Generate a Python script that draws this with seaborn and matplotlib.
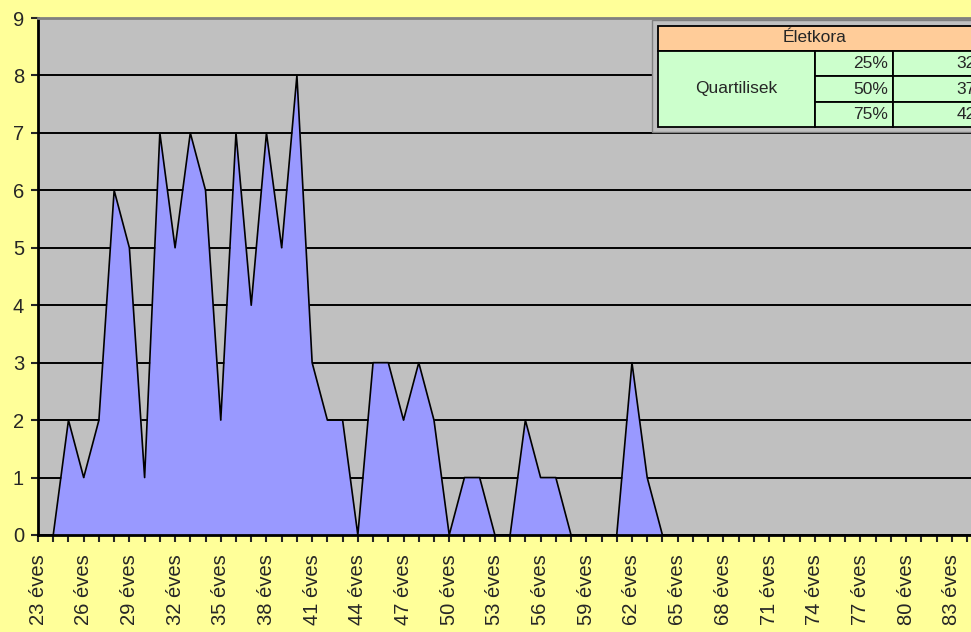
import matplotlib
matplotlib.use("Agg")
import matplotlib.pyplot as plt
import seaborn as sns
import pandas as pd
from matplotlib.patches import Rectangle

# age categories (23..84 years) and number of people per age
ages = [23, 24, 25, 26, 27, 28, 29, 30, 31, 32, 33, 34, 35, 36, 37, 38, 39, 40, 41, 42,
        43, 44, 45, 46, 47, 48, 49, 50, 51, 52, 53, 54, 55, 56, 57, 58, 59, 60, 61, 62,
        63, 64, 65, 66, 67, 68, 69, 70, 71, 72, 73, 74, 75, 76, 77, 78, 79, 80, 81, 82,
        83, 84]
counts = [0, 0, 2, 1, 2, 6, 5, 1, 7, 5, 7, 6, 2, 7, 4, 7, 5, 8, 3, 2,
          2, 0, 3, 3, 2, 3, 2, 0, 1, 1, 0, 0, 2, 1, 1, 0, 0, 0, 0, 3,
          1, 0, 0, 0, 0, 0, 0, 0, 0, 0, 0, 0, 0, 0, 0, 0, 0, 0, 0, 0,
          0, 0]
labels = [str(a) + " éves" for a in ages]

# quartile table
table_title = "Életkora"
table_row_name = "Quartilisek"
quart_names = ["25%", "50%", "75%"]
quart_values = ["32", "37", "42"]

sns.set_style("white")
plt.rcParams["font.family"] = ["Liberation Sans", "DejaVu Sans"]

df = pd.DataFrame({"age": ages, "count": counts, "label": labels})
df["pos"] = range(len(df))

W, H = 971, 632
fig = plt.figure(figsize=(W / 100, H / 100), dpi=100, facecolor="#FFFF99")
ax = fig.add_axes([38 / W, (H - 535) / H, 1 - 38 / W, (535 - 18) / H])
ax.set_facecolor("#C0C0C0")

ax.fill_between(df["pos"], df["count"], 0, color="#9999FF", lw=0, zorder=2)
sns.lineplot(data=df, x="pos", y="count", color="black", lw=1.2, ax=ax, zorder=3)

ax.set_xlim(0, (971 - 38) / 15.23)
ax.set_ylim(0, 9)
ax.set_yticks(range(0, 10))
ax.yaxis.grid(True, color="black", lw=1.4)
ax.set_axisbelow(True)
ax.set_xlabel("")
ax.set_ylabel("")

ax.set_xticks(df["pos"])
ax.set_xticklabels([l if i % 3 == 0 else "" for i, l in enumerate(df["label"])],
                   rotation=90, fontsize=14.5)
ax.tick_params(axis="x", direction="out", length=5, width=1.5, pad=9, bottom=True)
ax.tick_params(axis="y", direction="out", length=5, width=1.5, pad=5, labelsize=14.5, left=True)

for s in ["left", "bottom"]:
    ax.spines[s].set_color("black")
    ax.spines[s].set_linewidth(2)
ax.spines["top"].set_color("#808080")
ax.spines["top"].set_linewidth(2)
ax.spines["right"].set_visible(False)


# table drawn in pixel coordinates (top-left origin)
def rect(x0, y0, x1, y1, fc, ec="black", lw=1.3):
    fig.add_artist(Rectangle((x0 / W, 1 - y1 / H), (x1 - x0) / W, (y1 - y0) / H,
                             facecolor=fc, edgecolor=ec, lw=lw, transform=fig.transFigure))


def txt(x, y, s, ha="center"):
    fig.text(x / W, 1 - y / H, s, ha=ha, va="center", fontsize=12.5)


rect(652, 20, 985, 132, "#C0C0C0", ec="#808080", lw=1)
rect(658, 26, 985, 51, "#FFCC99")
rect(658, 51, 815, 127, "#CCFFCC")
for i in range(3):
    rect(815, 51 + i * 25.3, 893, 51 + (i + 1) * 25.3, "#CCFFCC")
    rect(893, 51 + i * 25.3, 985, 51 + (i + 1) * 25.3, "#CCFFCC")
    txt(888, 64 + i * 25.3, quart_names[i], ha="right")
    txt(976, 64 + i * 25.3, quart_values[i], ha="right")
txt(815, 38, table_title)
txt(736, 89, table_row_name)

fig.savefig("out.png", dpi=100, facecolor=fig.get_facecolor())
